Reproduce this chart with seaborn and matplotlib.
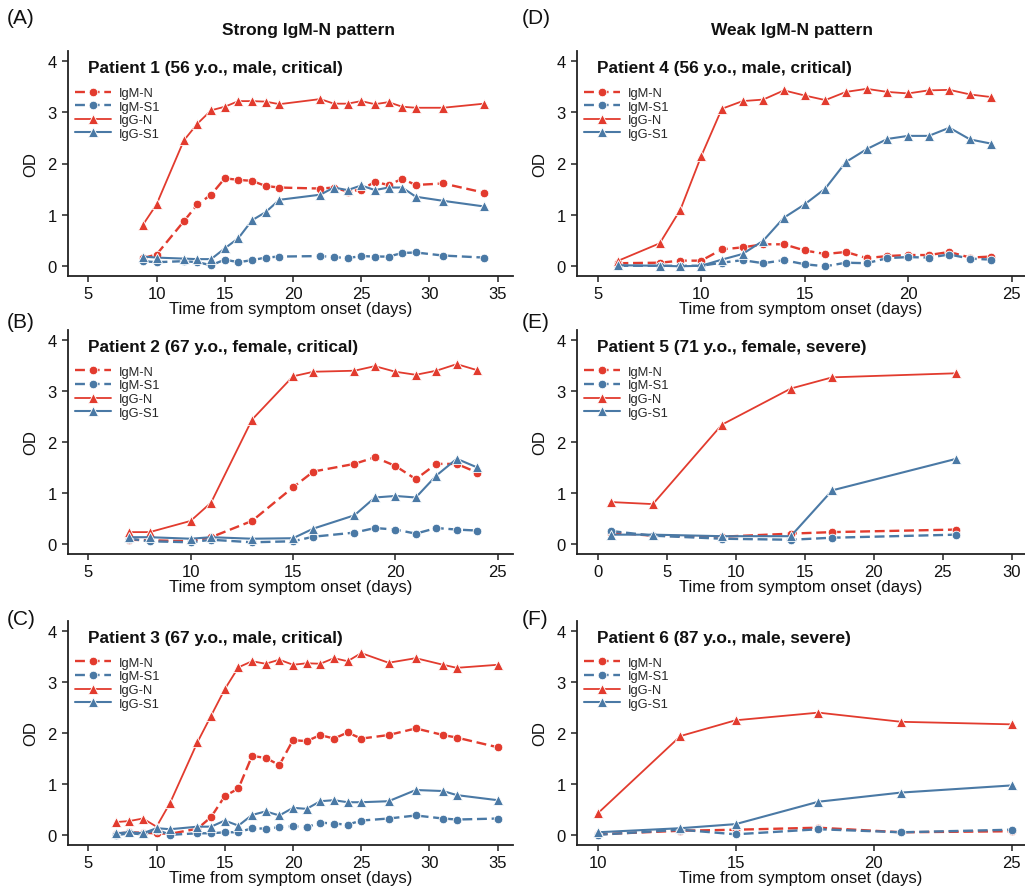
import numpy as np
import pandas as pd
import matplotlib
matplotlib.use("Agg")
import matplotlib.pyplot as plt
import seaborn as sns

# ---------------- data ----------------
series_names = ["IgM-N", "IgM-S1", "IgG-N", "IgG-S1"]

p1_days = [9, 10, 12, 13, 14, 15, 16, 17, 18, 19, 22, 23, 24, 25, 26, 27, 28, 29, 31, 34]
p1_igm_n = [0.15, 0.22, 0.87, 1.20, 1.39, 1.71, 1.68, 1.66, 1.56, 1.53, 1.51, 1.53, 1.45, 1.49, 1.64, 1.58, 1.70, 1.58, 1.61, 1.43]
p1_igm_s1 = [0.09, 0.07, 0.09, 0.07, 0.01, 0.12, 0.07, 0.11, 0.16, 0.18, 0.19, 0.17, 0.15, 0.19, 0.18, 0.18, 0.25, 0.26, 0.20, 0.16]
p1_igg_n = [0.80, 1.20, 2.45, 2.78, 3.04, 3.11, 3.22, 3.22, 3.21, 3.16, 3.26, 3.17, 3.17, 3.22, 3.16, 3.20, 3.11, 3.09, 3.09, 3.17]
p1_igg_s1 = [0.18, 0.16, 0.14, 0.13, 0.13, 0.34, 0.54, 0.89, 1.05, 1.29, 1.39, 1.53, 1.48, 1.57, 1.48, 1.53, 1.53, 1.35, 1.27, 1.16]

p2_days = [7, 8, 10, 11, 13, 15, 16, 18, 19, 20, 21, 22, 23, 24]
p2_igm_n = [0.08, 0.07, 0.05, 0.13, 0.45, 1.11, 1.42, 1.57, 1.70, 1.53, 1.27, 1.57, 1.57, 1.40]
p2_igm_s1 = [0.10, 0.05, 0.03, 0.08, 0.03, 0.05, 0.14, 0.22, 0.31, 0.28, 0.20, 0.31, 0.28, 0.26]
p2_igg_n = [0.23, 0.23, 0.45, 0.81, 2.44, 3.29, 3.38, 3.40, 3.49, 3.38, 3.32, 3.40, 3.53, 3.41]
p2_igg_s1 = [0.13, 0.13, 0.10, 0.13, 0.10, 0.11, 0.30, 0.56, 0.91, 0.94, 0.91, 1.34, 1.67, 1.50]

p3_days = [7, 8, 9, 10, 11, 13, 14, 15, 16, 17, 18, 19, 20, 21, 22, 23, 24, 25, 27, 29, 31, 32, 35]
p3_igm_n = [0.02, 0.05, 0.04, 0.03, 0.02, 0.12, 0.35, 0.76, 0.91, 1.55, 1.51, 1.37, 1.86, 1.84, 1.96, 1.89, 2.01, 1.89, 1.96, 2.09, 1.96, 1.91, 1.72]
p3_igm_s1 = [-0.01, 0.03, 0.01, 0.10, 0.00, 0.03, 0.03, 0.05, 0.05, 0.13, 0.12, 0.15, 0.17, 0.15, 0.24, 0.22, 0.20, 0.28, 0.32, 0.38, 0.32, 0.30, 0.32]
p3_igg_n = [0.25, 0.27, 0.32, 0.16, 0.63, 1.82, 2.34, 2.86, 3.29, 3.41, 3.36, 3.44, 3.34, 3.37, 3.36, 3.47, 3.41, 3.57, 3.38, 3.47, 3.34, 3.28, 3.34]
p3_igg_s1 = [0.03, 0.05, 0.03, 0.13, 0.11, 0.16, 0.16, 0.28, 0.18, 0.39, 0.46, 0.38, 0.53, 0.51, 0.66, 0.68, 0.64, 0.64, 0.66, 0.88, 0.86, 0.78, 0.68]

p4_days = [6, 8, 9, 10, 11, 12, 13, 14, 15, 16, 17, 18, 19, 20, 21, 22, 23, 24]
p4_igm_n = [0.05, 0.06, 0.10, 0.10, 0.32, 0.36, 0.42, 0.42, 0.30, 0.23, 0.27, 0.15, 0.19, 0.21, 0.21, 0.27, 0.16, 0.18]
p4_igm_s1 = [0.00, 0.00, 0.00, 0.00, 0.06, 0.11, 0.05, 0.11, 0.03, -0.01, 0.06, 0.05, 0.15, 0.17, 0.16, 0.22, 0.14, 0.12]
p4_igg_n = [0.10, 0.44, 1.10, 2.14, 3.07, 3.22, 3.25, 3.43, 3.33, 3.24, 3.40, 3.46, 3.40, 3.37, 3.43, 3.44, 3.35, 3.30]
p4_igg_s1 = [0.01, 0.00, -0.01, 0.00, 0.12, 0.23, 0.49, 0.94, 1.20, 1.51, 2.03, 2.28, 2.48, 2.54, 2.54, 2.70, 2.47, 2.39]

p5_days = [1, 4, 9, 14, 17, 26]
p5_igm_n = [0.22, 0.16, 0.14, 0.20, 0.23, 0.28]
p5_igm_s1 = [0.25, 0.16, 0.10, 0.08, 0.12, 0.18]
p5_igg_n = [0.82, 0.78, 2.34, 3.05, 3.27, 3.35]
p5_igg_s1 = [0.18, 0.18, 0.15, 0.15, 1.05, 1.67]

p6_days = [10, 13, 15, 18, 21, 25]
p6_igm_n = [0.01, 0.08, 0.10, 0.14, 0.05, 0.07]
p6_igm_s1 = [0.00, 0.10, 0.01, 0.11, 0.05, 0.10]
p6_igg_n = [0.42, 1.94, 2.25, 2.40, 2.22, 2.17]
p6_igg_s1 = [0.05, 0.13, 0.21, 0.65, 0.83, 0.97]

titles = [
    "Patient 1 (56 y.o., male, critical)",
    "Patient 2 (67 y.o., female, critical)",
    "Patient 3 (67 y.o., male, critical)",
    "Patient 4 (56 y.o., male, critical)",
    "Patient 5 (71 y.o., female, severe)",
    "Patient 6 (87 y.o., male, severe)",
]
panel_letters = ["(A)", "(B)", "(C)", "(D)", "(E)", "(F)"]
x_ticks = [
    [5, 10, 15, 20, 25, 30, 35],
    [5, 10, 15, 20, 25],
    [5, 10, 15, 20, 25, 30, 35],
    [5, 10, 15, 20, 25],
    [0, 5, 10, 15, 20, 25, 30],
    [10, 15, 20, 25],
]
y_ticks = [0, 1, 2, 3, 4]
col_headers = ["Strong IgM-N pattern", "Weak IgM-N pattern"]

patients = [
    (p1_days, [p1_igm_n, p1_igm_s1, p1_igg_n, p1_igg_s1]),
    (p2_days, [p2_igm_n, p2_igm_s1, p2_igg_n, p2_igg_s1]),
    (p3_days, [p3_igm_n, p3_igm_s1, p3_igg_n, p3_igg_s1]),
    (p4_days, [p4_igm_n, p4_igm_s1, p4_igg_n, p4_igg_s1]),
    (p5_days, [p5_igm_n, p5_igm_s1, p5_igg_n, p5_igg_s1]),
    (p6_days, [p6_igm_n, p6_igm_s1, p6_igg_n, p6_igg_s1]),
]

# ---------------- style ----------------
sns.set_theme(style="ticks")
plt.rcParams["font.family"] = ["Liberation Sans", "DejaVu Sans"]

RED = "#E23B2E"
BLUE = "#4A79A5"
styles = {
    "IgM-N": dict(color=RED, marker="o", linestyle=(0, (4.2, 2.0)), linewidth=1.7, markersize=6.2),
    "IgM-S1": dict(color=BLUE, marker="o", linestyle=(0, (4.2, 2.0)), linewidth=1.7, markersize=6.2),
    "IgG-N": dict(color=RED, marker="^", linestyle="-", linewidth=1.3, markersize=6.8),
    "IgG-S1": dict(color=BLUE, marker="^", linestyle="-", linewidth=1.5, markersize=6.8),
}

W, H = 1025, 887
fig = plt.figure(figsize=(W / 100, H / 100), dpi=100)

col_px = [(68, 513), (577, 1025)]
row_px = [(52, 277), (331, 555), (622, 846)]
tick_px = [(88.3, 497.7), (597.7, 1011.5)]

def fx(px):
    return px / W

def fy(py):
    return 1 - py / H

for i, (days, vals) in enumerate(patients):
    col = i // 3
    row = i % 3
    x0, x1 = col_px[col]
    y0, y1 = row_px[row]
    ax = fig.add_axes([fx(x0), fy(y1), (x1 - x0) / W, (y1 - y0) / H])

    df = pd.DataFrame({"day": days})
    for name, v in zip(series_names, vals):
        df[name] = v
    long = df.melt(id_vars="day", var_name="series", value_name="OD")

    for name in series_names:
        sub = long[long["series"] == name]
        sns.lineplot(data=sub, x="day", y="OD", ax=ax, errorbar=None,
                     markeredgecolor="white", markeredgewidth=0.6,
                     label=name, legend=False, **styles[name])

    xt = x_ticks[i]
    lo, hi = xt[0], xt[-1]
    r = hi - lo
    t0, t1 = tick_px[col]
    ax.set_xlim(lo - (t0 - x0) / (t1 - t0) * r, hi + (x1 - t1) / (t1 - t0) * r)
    ax.set_ylim(-0.2, 4.2)
    ax.set_xticks(xt)
    ax.set_yticks(y_ticks)
    ax.tick_params(axis="both", labelsize=12, length=4, width=1.1, color="#222222",
                   pad=3, labelcolor="#111111")
    ax.tick_params(axis="y", pad=4)
    for s in ["left", "bottom"]:
        ax.spines[s].set_linewidth(1.3)
        ax.spines[s].set_color("#222222")
    sns.despine(ax=ax)
    ax.set_ylabel("OD", fontsize=12, labelpad=7, color="#111111")
    ax.set_xlabel("Time from symptom onset (days)", fontsize=12, labelpad=0, color="#111111")

    ax.text(0.045, (3.88 + 0.2) / 4.4, titles[i], transform=ax.transAxes,
            fontsize=12.4, fontweight="bold", va="center", ha="left", color="#111111")

    handles = ax.get_lines()[:4]
    ax.legend(handles, series_names, loc="upper left", bbox_to_anchor=(0.016, 0.84),
              frameon=False, fontsize=9.3, handlelength=2.8, handletextpad=0.6,
              labelspacing=0.12, borderpad=0, borderaxespad=0)

# column headers
fig.text(fx(308), fy(30), col_headers[0], ha="center", va="center",
         fontsize=12.5, fontweight="bold", color="#111111")
fig.text(fx(792), fy(30), col_headers[1], ha="center", va="center",
         fontsize=12.5, fontweight="bold", color="#111111")

# panel letters
letter_pos = [(7, 18), (7, 323), (7, 620), (522, 18), (522, 323), (522, 620)]
for lab, (px, py) in zip(panel_letters, letter_pos):
    fig.text(fx(px), fy(py), lab, ha="left", va="center", fontsize=15, color="#111111")

fig.savefig("out.png", dpi=100, facecolor="white")
